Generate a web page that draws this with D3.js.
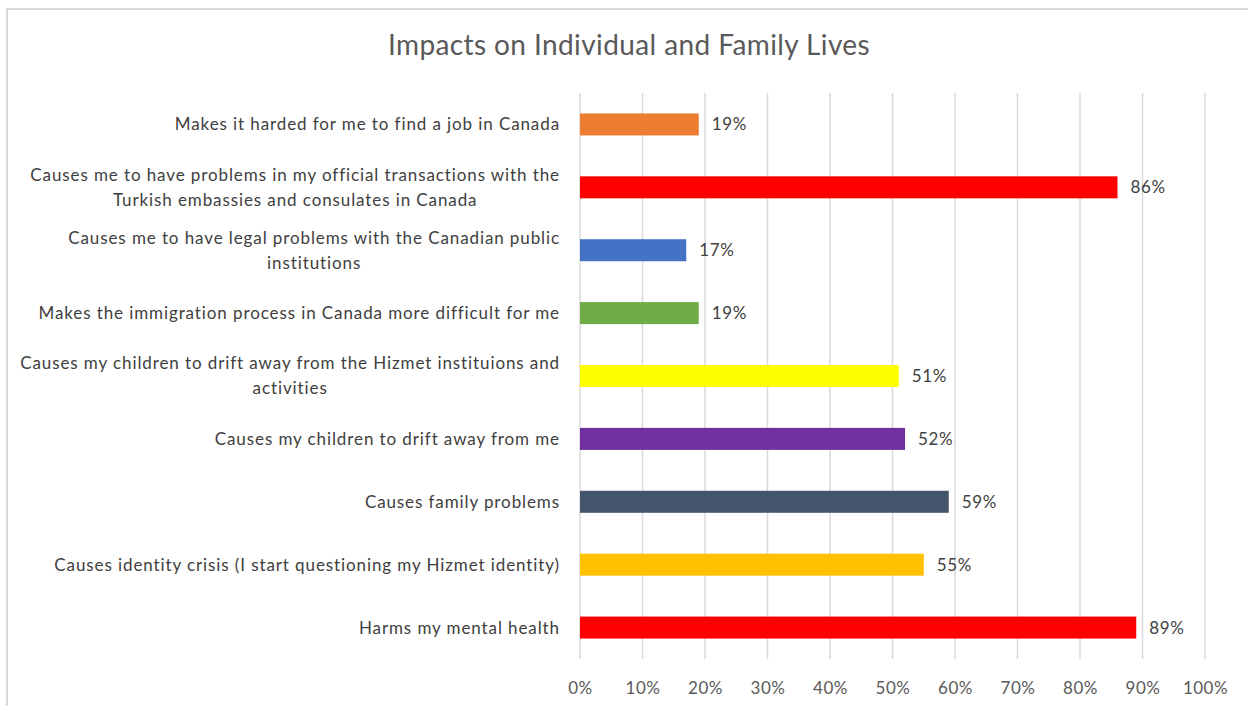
<!DOCTYPE html>
<html>
<head>
<meta charset="utf-8">
<script src="https://cdn.jsdelivr.net/npm/d3@7"></script>
<style>
  html, body { margin: 0; padding: 0; background: #ffffff; }
  svg { display: block; }
</style>
</head>
<body>
<svg id="chart" width="1248" height="706"></svg>
<script>
// Survey answers, listed top to bottom; "\n" marks where a label wraps.
const categories = [
  "Makes it harded for me to find a job in Canada",
  "Causes me to have problems in my official transactions with the\nTurkish embassies and consulates in Canada",
  "Causes me to have legal problems with the Canadian public\ninstitutions",
  "Makes the immigration process in Canada more difficult for me",
  "Causes my children to drift away from the Hizmet instituions and\nactivities",
  "Causes my children to drift away from me",
  "Causes family problems",
  "Causes identity crisis (I start questioning my Hizmet identity)",
  "Harms my mental health"
];
const values = [19, 86, 17, 19, 51, 52, 59, 55, 89];
const barColors = ["#ED7D31", "#FF0000", "#4472C4", "#70AD47", "#FFFF00", "#7030A0", "#44546A", "#FFC000", "#FF0000"];
const tickValues = [0, 10, 20, 30, 40, 50, 60, 70, 80, 90, 100];
const title = "Impacts on Individual and Family Lives";

const font = "Lato, 'Open Sans', sans-serif";
const svg = d3.select("#chart");

// outer chart frame (runs past the right and bottom edges)
svg.append("rect")
  .attr("x", 7).attr("y", 9)
  .attr("width", 1260).attr("height", 720)
  .attr("fill", "none")
  .attr("stroke", "#d9d9d9")
  .attr("stroke-width", 2);

const plot = { left: 580, right: 1205, top: 93, bottom: 659 };

const x = d3.scaleLinear().domain([0, 100]).range([plot.left, plot.right]);
const y = d3.scaleBand().domain(categories).range([plot.top, plot.bottom]).paddingInner(0.65).paddingOuter(0.325);

// title
svg.append("text")
  .attr("x", 629).attr("y", 55)
  .attr("text-anchor", "middle")
  .attr("font-family", font)
  .attr("font-size", 28)
  .attr("font-weight", 400)
  .attr("letter-spacing", 0.4)
  .attr("fill", "#595959")
  .text(title);

// vertical gridlines
svg.append("g")
  .selectAll("line")
  .data(tickValues)
  .join("line")
  .attr("x1", d => x(d)).attr("x2", d => x(d))
  .attr("y1", plot.top).attr("y2", plot.bottom)
  .attr("stroke", "#d9d9d9")
  .attr("stroke-width", 1.5);

// bottom axis labels
const xAxis = d3.axisBottom(x)
  .tickValues(tickValues)
  .tickFormat(d => d + "%")
  .tickSize(0)
  .tickPadding(0);
const axisG = svg.append("g")
  .attr("transform", `translate(0, ${plot.bottom + 35})`)
  .call(xAxis);
axisG.select(".domain").remove();
axisG.selectAll("text")
  .attr("font-family", font)
  .attr("font-size", 17)
  .attr("letter-spacing", 0.5)
  .attr("fill", "#595959")
  .attr("dy", 0);

// bars
svg.append("g")
  .selectAll("rect")
  .data(values)
  .join("rect")
  .attr("x", x(0))
  .attr("y", (d, i) => y(categories[i]))
  .attr("width", d => x(d) - x(0))
  .attr("height", y.bandwidth())
  .attr("fill", (d, i) => barColors[i]);

// value labels
svg.append("g")
  .selectAll("text")
  .data(values)
  .join("text")
  .attr("x", d => x(d) + 13)
  .attr("y", (d, i) => y(categories[i]) + y.bandwidth() / 2)
  .attr("dy", "0.35em")
  .attr("font-family", font)
  .attr("font-size", 17)
  .attr("letter-spacing", 0.6)
  .attr("fill", "#404040")
  .text(d => d + "%");

// category labels: block right-aligned to the axis, lines centred within block
const labelRight = 560;
const lineH = 25;
const catG = svg.append("g");
categories.forEach(cat => {
  const lines = cat.split("\n");
  const cy = y(cat) + y.bandwidth() / 2;
  const g = catG.append("g");
  const texts = lines.map((ln, k) => g.append("text")
    .attr("y", cy + (k - (lines.length - 1) / 2) * lineH)
    .attr("dy", "0.35em")
    .attr("font-family", font)
    .attr("font-size", 17)
    .attr("letter-spacing", 0.9)
    .attr("fill", "#404040")
    .attr("text-anchor", "middle")
    .text(ln));
  const maxW = d3.max(texts, t => t.node().getComputedTextLength());
  texts.forEach(t => t.attr("x", labelRight - maxW / 2));
});
</script>
</body>
</html>
